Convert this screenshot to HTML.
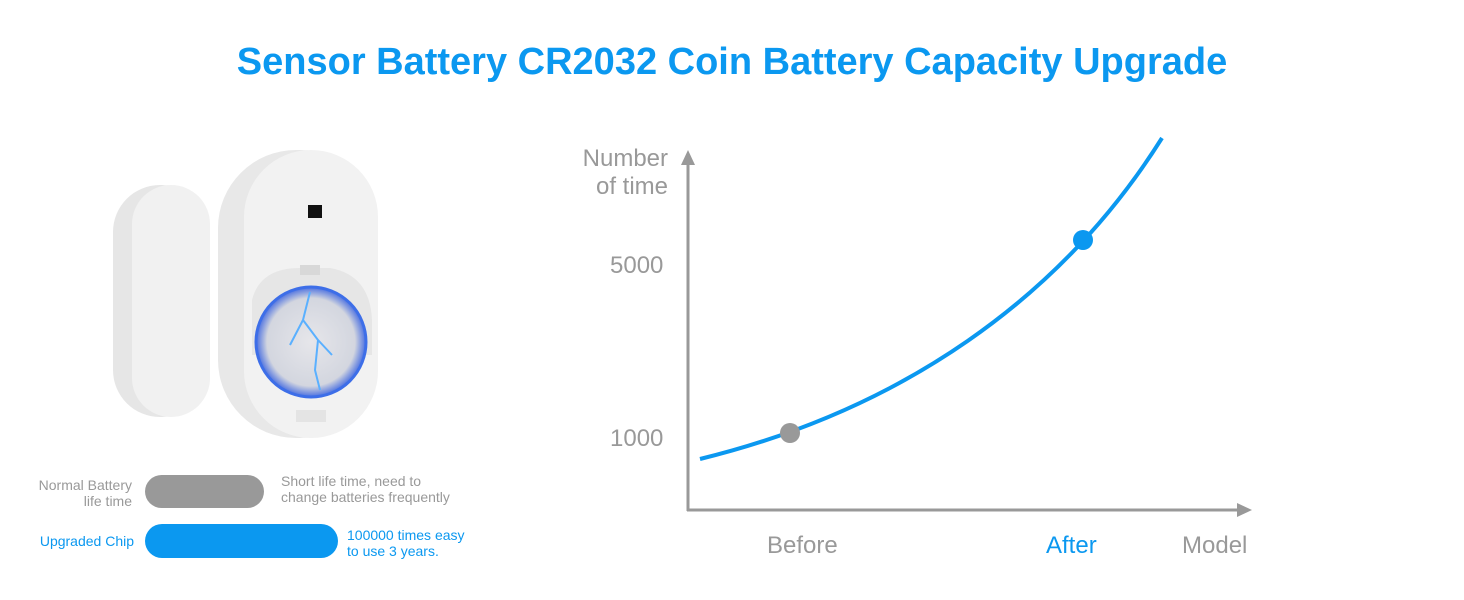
<!DOCTYPE html>
<html><head><meta charset="utf-8"><style>
html,body{margin:0;padding:0;background:#fff;}
body{width:1464px;height:600px;overflow:hidden;position:relative;font-family:"Liberation Sans",sans-serif;}
.t{position:absolute;white-space:nowrap;}
</style></head><body>
<div class="t" style="left:0;width:1464px;text-align:center;top:41px;font-size:38px;font-weight:bold;color:#0b98f0;">Sensor Battery CR2032 Coin Battery Capacity Upgrade</div>

<svg width="1464" height="600" style="position:absolute;left:0;top:0">
<defs>
<radialGradient id="coin" cx="0.5" cy="0.5" r="0.5"><stop offset="0" stop-color="#e6e6ea"/><stop offset="0.8" stop-color="#d3d6df"/><stop offset="1" stop-color="#4a6fe0"/></radialGradient>
</defs>
<rect x="113" y="185" width="95" height="232" rx="47" fill="#e6e6e6"/>
<rect x="132" y="185" width="78" height="232" rx="39" fill="#f1f1f1"/>
<rect x="218" y="150" width="160" height="288" rx="78" fill="#e8e8e8"/>
<rect x="244" y="150" width="134" height="288" rx="67" fill="#f2f2f2"/>
<rect x="308" y="205" width="14" height="13" fill="#111"/>
<path d="M252 300 Q260 268 300 268 L330 268 Q370 275 372 320 L372 355 L252 355Z" fill="#e6e6e6"/>
<rect x="300" y="265" width="20" height="10" fill="#d8d8d8"/>
<circle cx="311" cy="342" r="55" fill="url(#coin)" stroke="#3d6ee8" stroke-width="3"/>
<path d="M310 292 L303 320 L290 345 M303 320 L318 340 L315 370 L320 390 M318 340 L332 355" stroke="#5ab0ff" stroke-width="2" fill="none"/>
<rect x="296" y="410" width="30" height="12" fill="#e4e4e4"/>

<rect x="145" y="475" width="119" height="33" rx="16.5" fill="#999"/>
<rect x="145" y="524" width="193" height="34" rx="17" fill="#0b98f0"/>

<g stroke="#999" stroke-width="3" fill="none">
<line x1="688" y1="162" x2="688" y2="511"/>
<line x1="687" y1="510" x2="1240" y2="510"/>
</g>
<polygon points="688,150 681,165 695,165" fill="#999"/>
<polygon points="1252,510 1237,503 1237,517" fill="#999"/>
<path d="M700 459 C 900 410, 1060 300, 1162 138" stroke="#0b98f0" stroke-width="4" fill="none"/>
<circle cx="790" cy="433" r="10" fill="#999"/>
<circle cx="1083" cy="240" r="10" fill="#0b98f0"/>
</svg>

<div class="t" style="left:573px;top:145px;font-size:24px;color:#999;line-height:28px;text-align:right;width:95px">Number<br>of time</div>
<div class="t" style="left:610px;top:252px;font-size:24px;color:#999;">5000</div>
<div class="t" style="left:610px;top:425px;font-size:24px;color:#999;">1000</div>
<div class="t" style="left:767px;top:532px;font-size:24px;color:#999;">Before</div>
<div class="t" style="left:1046px;top:532px;font-size:24px;color:#0b98f0;">After</div>
<div class="t" style="left:1182px;top:532px;font-size:24px;color:#999;">Model</div>

<div class="t" style="left:20px;width:112px;text-align:right;top:477px;font-size:14px;line-height:16px;color:#999;">Normal Battery<br>life time</div>
<div class="t" style="left:281px;top:473px;font-size:14px;line-height:16px;color:#999;">Short life time, need to<br>change batteries frequently</div>
<div class="t" style="left:20px;width:114px;text-align:right;top:533px;font-size:14px;color:#0b98f0;">Upgraded Chip</div>
<div class="t" style="left:347px;top:527px;font-size:14px;line-height:16px;color:#0b98f0;">100000 times easy<br>to use 3 years.</div>
</body></html>
